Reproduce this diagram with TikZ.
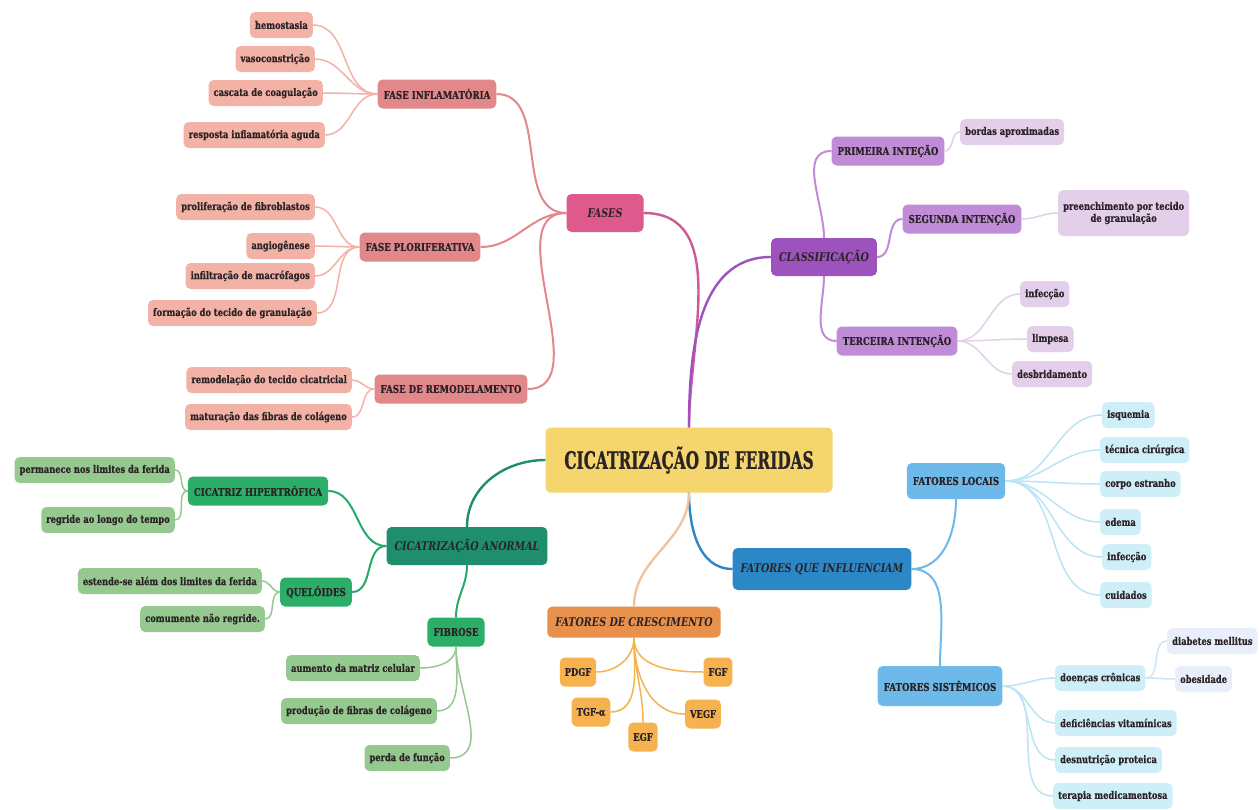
\documentclass[tikz,border=0pt]{standalone}
\usepackage{fontspec}
\setmainfont{DejaVu Serif}[FakeStretch=0.8, BoldFeatures={FakeBold=0.6}]
\newfontfamily\rootfont{DejaVu Serif}[FakeStretch=0.64, BoldFeatures={FakeBold=0.8}]
\definecolor{ink}{HTML}{2B2326}
\definecolor{rootc}{HTML}{F4D56E}
\definecolor{fasesc}{HTML}{DE5A8C}
\definecolor{fasec}{HTML}{E2878A}
\definecolor{fasel}{HTML}{F3B2A6}
\definecolor{classc}{HTML}{9D52BE}
\definecolor{classs}{HTML}{C08CD8}
\definecolor{classl}{HTML}{E4CFEA}
\definecolor{influc}{HTML}{2B87C5}
\definecolor{influs}{HTML}{6DB9EA}
\definecolor{influl}{HTML}{CFEFF8}
\definecolor{influx}{HTML}{E8EFFA}
\definecolor{crescc}{HTML}{E8914D}
\definecolor{crescl}{HTML}{F5B24F}
\definecolor{anorc}{HTML}{1E8E6E}
\definecolor{anors}{HTML}{2AAE68}
\definecolor{anorl}{HTML}{95C990}
\tikzset{
  every node/.style={font=\bfseries, text=ink},
  bubble/.style={rounded corners=5pt, inner xsep=5pt, inner ysep=2pt, align=center},
  rootbox/.style={bubble, fill=rootc, minimum width=287pt, minimum height=65pt, font=\rootfont\bfseries\fontsize{24}{26}\selectfont},
  mainbox/.style={bubble, fill=#1, minimum height=38pt, inner xsep=8pt, font=\bfseries\itshape\fontsize{12}{14}\selectfont},
  subbox/.style={bubble, fill=#1, minimum height=29pt, inner xsep=6pt, font=\bfseries\fontsize{10.8}{12}\selectfont},
  leaf/.style={bubble, fill=#1, minimum height=26pt, font=\bfseries\fontsize{10.4}{12}\selectfont},
  link/.style={draw=#1, line width=2.4pt},
  branch/.style={draw=#1, line width=2pt},
  twig/.style={draw=#1, line width=1.5pt},
}

\begin{document}
\begin{tikzpicture}[x=1pt, y=1pt]
\fill[white] (0,0) rectangle (1259,-809);
\useasboundingbox (0,0) rectangle (1259,-809);

% ───────────── root ─────────────
\node[rootbox] (root) at (689,-460) {CICATRIZAÇÃO DE FERIDAS};

% ───────────── fases ─────────────
\node[mainbox=fasesc, minimum width=77pt] (fases) at (605,-213) {FASES};
\node[subbox=fasec] (finfl) at (437,-94) {FASE INFLAMATÓRIA};
\node[leaf=fasel, anchor=east] (hemo) at (313,-25) {hemostasia};
\node[leaf=fasel, anchor=east] (vaso) at (315,-59) {vasoconstrição};
\node[leaf=fasel, anchor=east] (casc) at (323,-93) {cascata de coagulação};
\node[leaf=fasel, anchor=east] (resp) at (325,-135) {resposta inflamatória aguda};
\node[subbox=fasec] (fplor) at (420,-247) {FASE PLORIFERATIVA};
\node[leaf=fasel, anchor=east] (prolif) at (315,-207) {proliferação de fibroblastos};
\node[leaf=fasel, anchor=east] (angio) at (315,-246) {angiogênese};
\node[leaf=fasel, anchor=east] (infil) at (315,-276) {infiltração de macrófagos};
\node[leaf=fasel, anchor=east] (form) at (317,-313) {formação do tecido de granulação};
\node[subbox=fasec] (fremod) at (451,-389) {FASE DE REMODELAMENTO};
\node[leaf=fasel, anchor=east] (remod) at (352,-380) {remodelação do tecido cicatricial};
\node[leaf=fasel, anchor=east] (matur) at (352,-417) {maturação das fibras de colágeno};

\draw[link=fasesc!80!classc] (root.north) to[out=90, in=0] (fases.east);
\draw[branch=fasec] (fases.west) to[out=180, in=0] (finfl.east);
\draw[branch=fasec] (fases.west) to[out=180, in=0] (fplor.east);
\draw[branch=fasec] (fases.west) to[out=180, in=0] (fremod.east);
\draw[twig=fasel] (finfl.west) to[out=180, in=0] (hemo.east);
\draw[twig=fasel] (finfl.west) to[out=180, in=0] (vaso.east);
\draw[twig=fasel] (finfl.west) to[out=180, in=0] (casc.east);
\draw[twig=fasel] (finfl.west) to[out=180, in=0] (resp.east);
\draw[twig=fasel] (fplor.west) to[out=180, in=0] (prolif.east);
\draw[twig=fasel] (fplor.west) to[out=180, in=0] (angio.east);
\draw[twig=fasel] (fplor.west) to[out=180, in=0] (infil.east);
\draw[twig=fasel] (fplor.west) to[out=180, in=0] (form.east);
\draw[twig=fasel] (fremod.west) to[out=180, in=0] (remod.east);
\draw[twig=fasel] (fremod.west) to[out=180, in=0] (matur.east);

% ───────────── classificação ─────────────
\node[mainbox=classc] (classif) at (824,-257) {CLASSIFICAÇÃO};
\node[subbox=classs] (prim) at (888,-151) {PRIMEIRA INTEÇÃO};
\node[leaf=classl, anchor=west] (bordas) at (960,-132) {bordas aproximadas};
\node[subbox=classs] (seg) at (962,-219) {SEGUNDA INTENÇÃO};
\node[leaf=classl, anchor=west, minimum height=46pt] (preench) at (1058,-213) {preenchimento por tecido\\de granulação};
\node[subbox=classs] (terc) at (897,-341) {TERCEIRA INTENÇÃO};
\node[leaf=classl, anchor=west] (infec) at (1020,-294) {infecção};
\node[leaf=classl, anchor=west] (limp) at (1027,-339) {limpesa};
\node[leaf=classl, anchor=west] (desbr) at (1012,-374) {desbridamento};

\draw[link=classc] (root.north) to[out=90, in=180] (classif.west);
\draw[branch=classs] (classif.north) to[out=90, in=180] (prim.west);
\draw[branch=classs] (classif.east) to[out=0, in=180] (seg.west);
\draw[branch=classs] (classif.south) to[out=-90, in=180] (terc.west);
\draw[twig=classl] (prim.east) to[out=0, in=180] (bordas.west);
\draw[twig=classl] (seg.east) to[out=0, in=180] (preench.west);
\draw[twig=classl] (terc.east) to[out=0, in=180] (infec.west);
\draw[twig=classl] (terc.east) to[out=0, in=180] (limp.west);
\draw[twig=classl] (terc.east) to[out=0, in=180] (desbr.west);

% ───────────── fatores que influenciam ─────────────
\node[mainbox=influc, minimum height=42pt] (influ) at (822,-569) {FATORES QUE INFLUENCIAM};
\node[subbox=influs, minimum height=36pt] (locais) at (956,-481) {FATORES LOCAIS};
\node[leaf=influl, anchor=west] (isq) at (1102,-415) {isquemia};
\node[leaf=influl, anchor=west] (tec) at (1100,-450) {técnica cirúrgica};
\node[leaf=influl, anchor=west] (corpo) at (1100,-484) {corpo estranho};
\node[leaf=influl, anchor=west] (edema) at (1100,-522) {edema};
\node[leaf=influl, anchor=west] (infec2) at (1102,-557) {infecção};
\node[leaf=influl, anchor=west] (cuid) at (1100,-595) {cuidados};
\node[subbox=influs, minimum height=40pt] (sist) at (940,-686) {FATORES SISTÊMICOS};
\node[leaf=influl, anchor=west] (doenc) at (1055,-678) {doenças crônicas};
\node[leaf=influx, anchor=west] (diab) at (1167,-641) {diabetes mellitus};
\node[leaf=influx, anchor=west] (obes) at (1175,-679) {obesidade};
\node[leaf=influl, anchor=west] (defic) at (1055,-723) {deficiências vitamínicas};
\node[leaf=influl, anchor=west] (desnut) at (1055,-760) {desnutrição proteica};
\node[leaf=influl, anchor=west] (terap) at (1053,-796) {terapia medicamentosa};

\draw[link=influc] (root.south) to[out=-90, in=180] (influ.west);
\draw[branch=influs] (influ.east) to[out=0, in=-90] (locais.south);
\draw[branch=influs] (influ.east) to[out=0, in=90] (sist.north);
\draw[twig=influl!80!influs] (locais.east) to[out=0, in=180] (isq.west);
\draw[twig=influl!80!influs] (locais.east) to[out=0, in=180] (tec.west);
\draw[twig=influl!80!influs] (locais.east) to[out=0, in=180] (corpo.west);
\draw[twig=influl!80!influs] (locais.east) to[out=0, in=180] (edema.west);
\draw[twig=influl!80!influs] (locais.east) to[out=0, in=180] (infec2.west);
\draw[twig=influl!80!influs] (locais.east) to[out=0, in=180] (cuid.west);
\draw[twig=influl!80!influs] (sist.east) to[out=0, in=180] (doenc.west);
\draw[twig=influl!80!influs] (sist.east) to[out=0, in=180] (defic.west);
\draw[twig=influl!80!influs] (sist.east) to[out=0, in=180] (desnut.west);
\draw[twig=influl!80!influs] (sist.east) to[out=0, in=180] (terap.west);
\draw[twig=influx!80!influs] (doenc.east) to[out=0, in=180] (diab.west);
\draw[twig=influx!80!influs] (doenc.east) to[out=0, in=180] (obes.west);

% ───────────── fatores de crescimento ─────────────
\node[mainbox=crescc, minimum height=31pt] (cresc) at (634,-622) {FATORES DE CRESCIMENTO};
\node[leaf=crescl, minimum height=29pt] (pdgf) at (578,-672) {PDGF};
\node[leaf=crescl, minimum height=29pt] (fgf) at (718,-672) {FGF};
\node[leaf=crescl, minimum height=29pt] (tgf) at (591,-712) {TGF-α};
\node[leaf=crescl, minimum height=29pt] (vegf) at (703,-714) {VEGF};
\node[leaf=crescl, minimum height=29pt] (egf) at (643,-737) {EGF};

\draw[link=crescc!55!white] (root.south) to[out=-90, in=90] (cresc.north);
\draw[twig=crescl] (cresc.south) to[out=-90, in=0] (pdgf.east);
\draw[twig=crescl] (cresc.south) to[out=-90, in=0] (tgf.east);
\draw[twig=crescl] (cresc.south) to[out=-90, in=90] (egf.north);
\draw[twig=crescl] (cresc.south) to[out=-90, in=180] (vegf.west);
\draw[twig=crescl] (cresc.south) to[out=-90, in=180] (fgf.west);

% ───────────── cicatrização anormal ─────────────
\node[mainbox=anorc] (anor) at (467,-546) {CICATRIZAÇÃO ANORMAL};
\node[subbox=anors] (hipert) at (258,-491) {CICATRIZ HIPERTRÓFICA};
\node[leaf=anorl, anchor=east] (perm) at (175,-470) {permanece nos limites da ferida};
\node[leaf=anorl, anchor=east] (regr) at (175,-520) {regride ao longo do tempo};
\node[subbox=anors] (quel) at (316,-592) {QUELÓIDES};
\node[leaf=anorl, anchor=east] (est) at (262,-581) {estende-se além dos limites da ferida};
\node[leaf=anorl, anchor=east] (comum) at (265,-619) {comumente não regride.};
\node[subbox=anors] (fibr) at (456,-632) {FIBROSE};
\node[leaf=anorl, anchor=east] (aum) at (420,-668) {aumento da matriz celular};
\node[leaf=anorl, anchor=east] (prod) at (437,-711) {produção de fibras de colágeno};
\node[leaf=anorl, anchor=east] (perda) at (450,-758) {perda de função};

\draw[link=anorc] (root.west) to[out=180, in=90] (anor.north);
\draw[branch=anors!85!anorc] (anor.west) to[out=180, in=0] (hipert.east);
\draw[branch=anors!85!anorc] (anor.west) to[out=180, in=0] (quel.east);
\draw[branch=anors!85!anorc] (anor.south) to[out=-90, in=90] (fibr.north);
\draw[twig=anorl] (hipert.west) to[out=180, in=0] (perm.east);
\draw[twig=anorl] (hipert.west) to[out=180, in=0] (regr.east);
\draw[twig=anorl] (quel.west) to[out=180, in=0] (est.east);
\draw[twig=anorl] (quel.west) to[out=180, in=0] (comum.east);
\draw[twig=anorl] (fibr.south) to[out=-90, in=0] (aum.east);
\draw[twig=anorl] (fibr.south) to[out=-90, in=0] (prod.east);
\draw[twig=anorl] (fibr.south) to[out=-90, in=0] (perda.east);

\end{tikzpicture}
\end{document}
